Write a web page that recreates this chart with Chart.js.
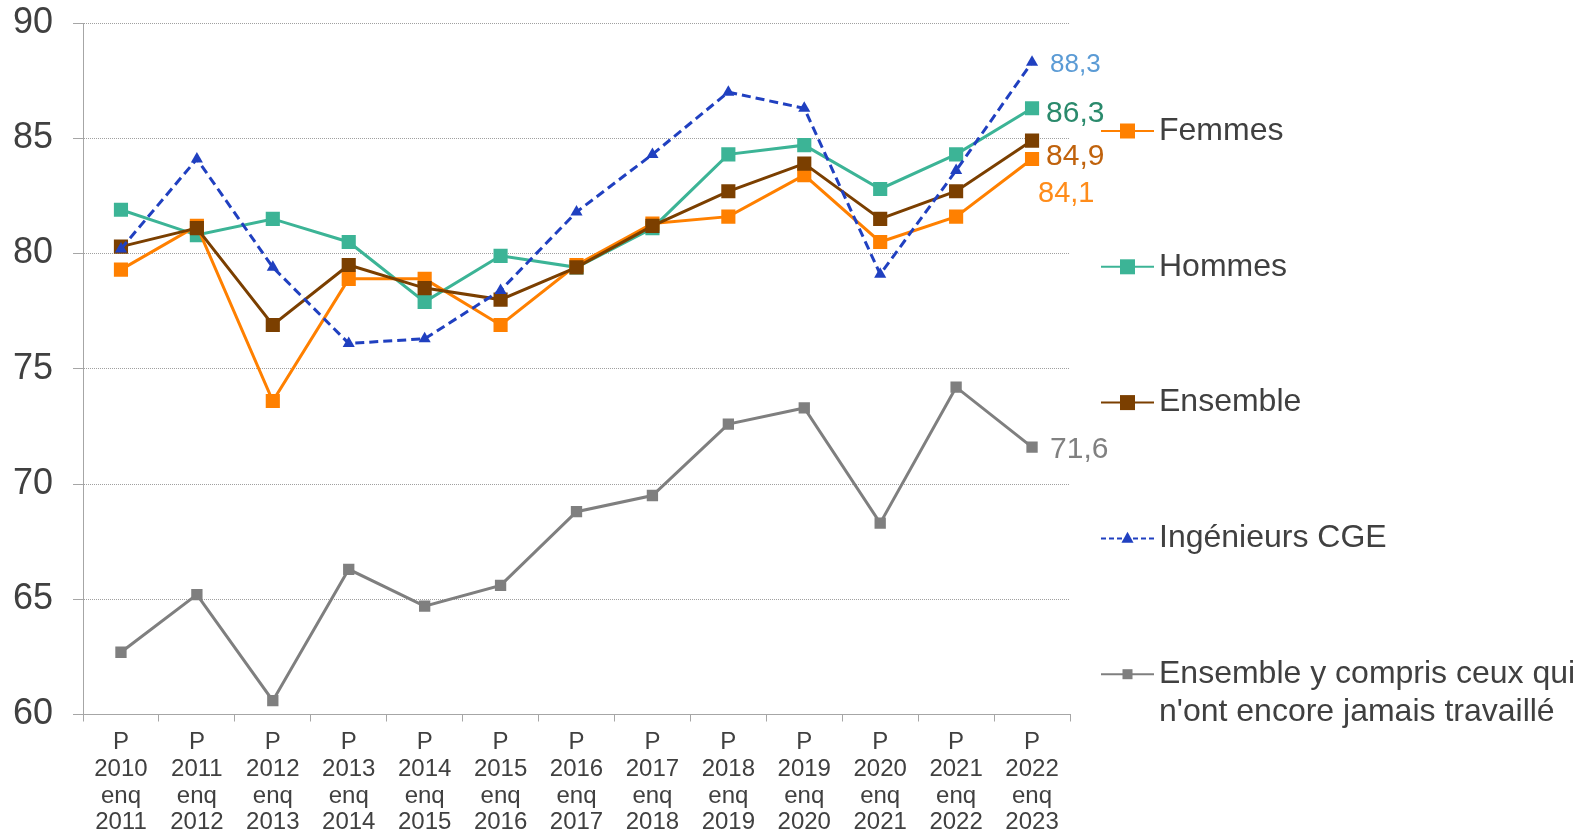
<!DOCTYPE html>
<html>
<head>
<meta charset="utf-8">
<script src="https://cdn.jsdelivr.net/npm/chart.js@4.4.1/dist/chart.umd.min.js"></script>
<style>
html,body{margin:0;padding:0;background:#ffffff;}
canvas{display:block;}
</style>
</head>
<body>
<canvas id="c" width="1587" height="835"></canvas>
<script>
// ---- Data ----
const periods = ['2010','2011','2012','2013','2014','2015','2016','2017','2018','2019','2020','2021','2022'];
const surveys = ['2011','2012','2013','2014','2015','2016','2017','2018','2019','2020','2021','2022','2023'];
const femmes    = [79.3, 81.2, 73.6, 78.9, 78.9, 76.9, 79.5, 81.3, 81.6, 83.4, 80.5, 81.6, 84.1];
const hommes    = [81.9, 80.8, 81.5, 80.5, 77.9, 79.9, 79.4, 81.1, 84.3, 84.7, 82.8, 84.3, 86.3];
const ensemble  = [80.3, 81.1, 76.9, 79.5, 78.5, 78.0, 79.4, 81.2, 82.7, 83.9, 81.5, 82.7, 84.9];
const cge       = [80.2, 84.1, 79.4, 76.1, 76.3, 78.4, 81.8, 84.3, 87.0, 86.3, 79.1, 83.6, 88.3];
const ensembleTous = [62.7, 65.2, 60.6, 66.3, 64.7, 65.6, 68.8, 69.5, 72.6, 73.3, 68.3, 74.2, 71.6];
const seriesNames = ['Femmes', 'Hommes', 'Ensemble', 'Ingénieurs CGE', 'Ensemble y compris ceux qui n\'ont encore jamais travaillé'];
const yTicks = [60, 65, 70, 75, 80, 85, 90];

const labels = periods.map((p, i) => ['P', p, 'enq', surveys[i]]);

// ---- Styles ----
const FONT = "'Liberation Sans', Arial, sans-serif";
const TEXT = '#404040';
const AXIS = '#a6a6a6';

const styles = [
  {color:'#FF8000', style:'rect', r:10, order:2, dash:[], lab:{color:'#FF8C1A', size:29, dx:6, dy:35}, legend:{lines:['Femmes'], ms:15}},
  {color:'#3CB496', style:'rect', r:10, order:3, dash:[], lab:{color:'#2A8A6C', size:30, dx:14, dy:5}, legend:{lines:['Hommes'], ms:15}},
  {color:'#7B3F00', style:'rect', r:10, order:1, dash:[], lab:{color:'#C0620C', size:30, dx:14, dy:16}, legend:{lines:['Ensemble'], ms:15}},
  {color:'#2040C0', style:'triangle', r:7, order:0, dash:[9,5], lab:{color:'#5B9BD5', size:26, dx:18, dy:3}, legend:{lines:['Ingénieurs CGE'], ms:11}},
  {color:'#7F7F7F', style:'rect', r:8, order:4, dash:[], lab:{color:'#808080', size:30, dx:18, dy:3}, legend:{lines:['Ensemble y compris ceux qui', 'n\'ont encore jamais travaillé'], ms:10}}
];
const values = [femmes, hommes, ensemble, cge, ensembleTous];

const datasets = values.map((v, i) => ({
  label: seriesNames[i],
  data: v,
  borderColor: styles[i].color,
  backgroundColor: styles[i].color,
  pointBackgroundColor: styles[i].color,
  pointBorderColor: styles[i].color,
  pointBorderWidth: 0,
  pointStyle: styles[i].style,
  pointRadius: styles[i].r,
  pointHoverRadius: styles[i].r,
  borderWidth: 3,
  borderDash: styles[i].dash,
  tension: 0,
  fill: false,
  order: styles[i].order
}));

const endLabels = {
  id: 'endLabels',
  afterDatasetsDraw(chart) {
    const ctx = chart.ctx;
    chart.data.datasets.forEach((ds, i) => {
      const meta = chart.getDatasetMeta(i);
      const pt = meta.data[meta.data.length - 1];
      const val = ds.data[ds.data.length - 1];
      const s = styles[i].lab;
      ctx.save();
      ctx.font = s.size + 'px ' + FONT;
      ctx.fillStyle = s.color;
      ctx.textAlign = 'left';
      ctx.textBaseline = 'middle';
      ctx.fillText(val.toFixed(1).replace('.', ','), pt.x + s.dx, pt.y + s.dy);
      ctx.restore();
    });
  }
};

const customLegend = {
  id: 'customLegend',
  afterDraw(chart) {
    const ctx = chart.ctx;
    const x0 = 1101, x1 = 1154, xm = 1127.5, xt = 1159;
    const y0 = 131, step = 135.8;
    styles.forEach((s, i) => {
      const y = y0 + i * step;
      ctx.save();
      ctx.strokeStyle = s.color;
      ctx.lineWidth = 2;
      ctx.setLineDash(s.dash.length ? [5, 3] : []);
      ctx.beginPath();
      ctx.moveTo(x0, y);
      ctx.lineTo(x1, y);
      ctx.stroke();
      ctx.setLineDash([]);
      ctx.fillStyle = s.color;
      const m = s.legend.ms;
      if (s.style === 'triangle') {
        ctx.beginPath();
        ctx.moveTo(xm, y - m * 0.6);
        ctx.lineTo(xm + m * 0.55, y + m * 0.4);
        ctx.lineTo(xm - m * 0.55, y + m * 0.4);
        ctx.closePath();
        ctx.fill();
      } else {
        ctx.fillRect(xm - m / 2, y - m / 2, m, m);
      }
      ctx.font = '32px ' + FONT;
      ctx.fillStyle = TEXT;
      ctx.textAlign = 'left';
      ctx.textBaseline = 'middle';
      s.legend.lines.forEach((t, k) => ctx.fillText(t, xt, y + k * 38));
      ctx.restore();
    });
  }
};

const whiteBg = {
  id: 'whiteBg',
  beforeDraw(chart) {
    const ctx = chart.ctx;
    ctx.save();
    ctx.fillStyle = '#ffffff';
    ctx.fillRect(0, 0, chart.width, chart.height);
    ctx.restore();
  }
};

new Chart(document.getElementById('c'), {
  type: 'line',
  data: { labels: labels, datasets: datasets },
  options: {
    responsive: false,
    devicePixelRatio: 1,
    animation: false,
    layout: { padding: { left: 0, right: 517, top: 23, bottom: 0 } },
    plugins: {
      legend: { display: false },
      tooltip: { enabled: false },
      title: { display: false }
    },
    scales: {
      x: {
        offset: true,
        grid: {
          display: true,
          offset: true,
          drawOnChartArea: false,
          drawTicks: true,
          tickLength: 7,
          tickColor: AXIS,
          tickWidth: 1
        },
        border: { display: true, color: AXIS, width: 1 },
        ticks: {
          color: TEXT,
          font: { family: FONT, size: 24, lineHeight: 1.108 },
          padding: 8,
          maxRotation: 0,
          autoSkip: false
        },
        afterFit(scale) {
          scale.height = 120.5;
          scale.paddingLeft = 0; scale.paddingRight = 0;
        }
      },
      y: {
        min: 60,
        max: 90,
        afterBuildTicks(scale) { scale.ticks = yTicks.map(v => ({ value: v })); },
        grid: {
          color: '#a0a0a0',
          lineWidth: 1,
          drawTicks: true,
          tickLength: 10,
          tickColor: AXIS,
          tickWidth: 1
        },
        border: { display: true, color: AXIS, width: 1, dash: [1, 1] },
        ticks: {
          color: TEXT,
          font: { family: FONT, size: 36 },
          padding: 20
        },
        afterFit(scale) {
          scale.width = 83;
          scale.paddingTop = 0; scale.paddingBottom = 0;
        }
      }
    }
  },
  plugins: [whiteBg, endLabels, customLegend]
});
</script>
</body>
</html>
